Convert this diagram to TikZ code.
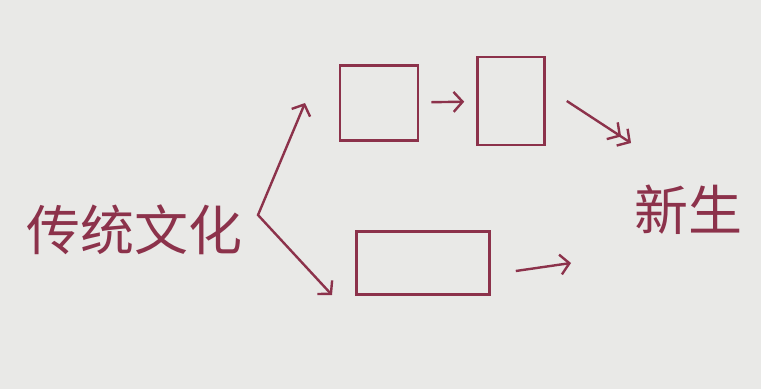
\documentclass[tikz,border=0pt]{standalone}
\usepackage{fontspec}
\newfontfamily\cjk{Noto Sans CJK SC}
\usepackage{tikz}
\usetikzlibrary{arrows.meta}
\definecolor{ink}{RGB}{140,50,75}
\definecolor{paper}{RGB}{233,233,231}

\begin{document}
\begin{tikzpicture}[x=1pt, y=1pt, line width=2.4pt, draw=ink,
  box/.style = {draw=ink, line width=2.6pt, inner sep=0pt},
  word/.style = {text=ink, font=\cjk\fontsize{54}{54}\selectfont, inner sep=0pt},
  >={Straight Barb[length=9pt, width=20pt]}]
\fill[paper] (0,0) rectangle (761,389);
\useasboundingbox (0,0) rectangle (761,389);
\node[word] (ct) at (135,159) {传统文化};
\node[word] (xs) at (688,179) {新生};
\node[box, minimum width=78pt, minimum height=75pt] (b1) at (379,286) {};
\node[box, minimum width=67pt, minimum height=88pt] (b2) at (511,288) {};
\node[box, minimum width=133pt, minimum height=63pt] (b3) at (423,126) {};
\coordinate (fork) at (258,174);
\coordinate (up) at (305,286);
\coordinate (down) at (332,94);
\coordinate (t2) at (631,246);
\coordinate (t3) at (571,126);
\draw[ink, <->] (up) -- (fork) -- (down);
\draw[ink, ->, shorten <=12pt, shorten >=12pt] (b1) -- (b2);
\draw[ink, ->>] ([xshift=21pt]b2.east) -- (t2);
\draw[ink, ->] ([shift={(25pt,-8pt)}]b3.east) -- (t3);
\end{tikzpicture}
\end{document}
